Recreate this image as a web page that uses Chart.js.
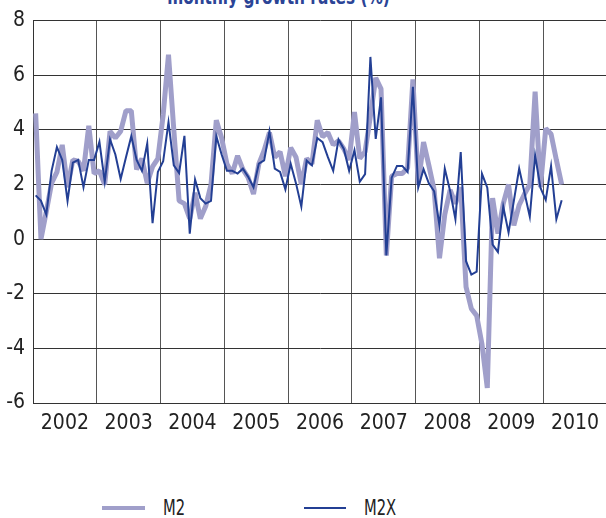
<!DOCTYPE html>
<html>
<head>
<meta charset="UTF-8">
<style>
  html, body { margin: 0; padding: 0; background: #fff; overflow: hidden; }
  body { width: 606px; height: 518px; position: relative; font-family: 'Liberation Sans Narrow', 'DejaVu Sans Condensed', sans-serif; }
  #title { position: absolute; left: 0; top: -14px; width: 557px; text-align: center; font-weight: bold; font-size: 22px; line-height: 22px; color: #2b4496; transform: scaleX(0.775); white-space: nowrap; }
  #wrap { position: absolute; left: 0; top: 0; width: 607px; height: 440px; }
  .swatch { position: absolute; }
  .lbl { position: absolute; top: 498px; font-size: 21px; line-height: 21px; color: #222; transform: scaleX(0.78); transform-origin: left center; }
</style>
</head>
<body>
<div id="title">monthly growth rates (%)</div>
<div id="wrap"><canvas id="myChart"></canvas></div>
<div class="swatch" style="left:102px; top:506px; width:43px; height:4px; background:#a09fca;"></div>
<div class="lbl" style="left:163px;">M2</div>
<div class="swatch" style="left:304px; top:507px; width:42px; height:2px; background:#233f94;"></div>
<div class="lbl" style="left:364px;">M2X</div>

<script src="https://cdn.jsdelivr.net/npm/chart.js@4.4.0/dist/chart.umd.min.js"></script>
<script>
  // monthly values from Jan 2002 onwards
  const years = ['2002', '2003', '2004', '2005', '2006', '2007', '2008', '2009', '2010'];

  const m2 = [
    4.6, 0.0, 1.0, 2.05, 2.45, 3.45, 1.9, 2.9, 2.85, 2.5, 4.15, 2.4,
    2.5, 2.0, 3.95, 3.7, 3.95, 4.7, 4.7, 2.55, 2.95, 2.05, 2.65, 2.95,
    4.55, 6.75, 4.0, 1.4, 1.3, 0.75, 1.7, 0.75, 1.2, 2.0, 4.35, 3.7,
    2.75, 2.4, 3.05, 2.55, 2.25, 1.65, 2.75, 3.25, 3.9, 3.0, 3.2, 2.3,
    3.35, 3.0, 2.0, 2.95, 2.75, 4.35, 3.75, 3.9, 3.45, 3.6, 3.3, 2.9,
    4.65, 2.95, 3.2, 4.5, 5.9, 5.5, -0.6, 2.3, 2.4, 2.4, 2.6, 5.85,
    2.0, 3.55, 2.7, 1.8, -0.7, 0.9, 1.8, 1.3, 1.9, -1.75, -2.55, -2.8,
    -3.85, -5.45, 1.5, 0.2, 1.3, 2.0, 0.5, 1.25, 1.65, 2.0, 5.4, 1.9,
    4.05, 3.85, 2.9, 2.0
  ];

  const m2x = [
    1.6, 1.4, 0.9, 2.5, 3.37, 2.9, 1.4, 2.8, 2.9, 1.9, 2.9, 2.9,
    3.56, 2.1, 3.65, 3.1, 2.2, 3.0, 3.77, 2.9, 2.5, 3.5, 0.58, 2.46,
    2.85, 4.28, 2.7, 2.42, 3.78, 0.2, 2.18, 1.5, 1.3, 1.4, 3.77, 3.1,
    2.5, 2.5, 2.4, 2.58, 2.28, 1.9, 2.76, 2.88, 3.95, 2.58, 2.46, 1.82,
    2.76, 2.04, 1.19, 2.88, 2.7, 3.7, 3.55, 3.0, 2.5, 3.65, 3.3, 2.5,
    3.25, 2.1, 2.38, 6.67, 3.67, 5.19, -0.6, 2.25, 2.68, 2.68, 2.46, 5.58,
    1.89, 2.56, 2.04, 1.75, 0.5, 2.58, 1.76, 0.73, 3.19, -0.81, -1.3, -1.19,
    2.39, 1.88, -0.2, -0.47, 1.19, 0.24, 1.4, 2.58, 1.7, 0.82, 3.07, 1.88,
    1.43, 2.67, 0.73, 1.42
  ];

  // x runs in months; each point sits in the middle of its month
  const toPoints = arr => arr.map((v, i) => ({ x: i + 0.5, y: v }));
  const totalMonths = years.length * 12;

  const font = { family: "'Liberation Sans Narrow', 'DejaVu Sans Condensed', sans-serif", size: 21 };

  const ctx = document.getElementById('myChart');
  new Chart(ctx, {
    type: 'line',
    data: {
      datasets: [
        {
          label: 'M2',
          data: toPoints(m2),
          borderColor: '#a09fca',
          borderWidth: 5,
          borderJoinStyle: 'bevel',
          pointRadius: 0,
          tension: 0,
          order: 2
        },
        {
          label: 'M2X',
          data: toPoints(m2x),
          borderColor: '#233f94',
          borderWidth: 2,
          pointRadius: 0,
          tension: 0,
          order: 1
        }
      ]
    },
    options: {
      responsive: true,
      maintainAspectRatio: false,
      animation: false,
      layout: { padding: { top: 19, right: 0, left: 0, bottom: 0 } },
      plugins: {
        legend: { display: false },
        title: { display: false },
        tooltip: { enabled: false }
      },
      scales: {
        x: {
          type: 'linear',
          min: 0,
          max: totalMonths,
          // year edges and year middles; the closing edge gets no line
          afterBuildTicks: scale => {
            const t = [];
            for (let v = 0; v < totalMonths; v += 6) t.push({ value: v });
            scale.ticks = t;
          },
          afterFit: scale => { scale.height = 37; },
          ticks: {
            autoSkip: false,
            maxRotation: 0,
            padding: 8,
            color: '#222',
            font: font,
            callback: v => (v % 12 === 6 ? years[(v - 6) / 12] : '')
          },
          grid: {
            drawTicks: false,
            color: c => (c.tick && c.tick.value % 12 === 0 ? '#555' : 'rgba(0,0,0,0)'),
            lineWidth: 1
          },
          border: { display: true, color: '#333', width: 1 }
        },
        y: {
          min: -6,
          max: 8,
          afterFit: scale => { scale.width = 33; },
          ticks: {
            stepSize: 2,
            padding: 8,
            color: '#222',
            font: font
          },
          grid: {
            drawTicks: false,
            color: '#333',
            lineWidth: 1
          },
          border: { display: true, color: '#333', width: 1 }
        }
      }
    }
  });
</script>
</body>
</html>
